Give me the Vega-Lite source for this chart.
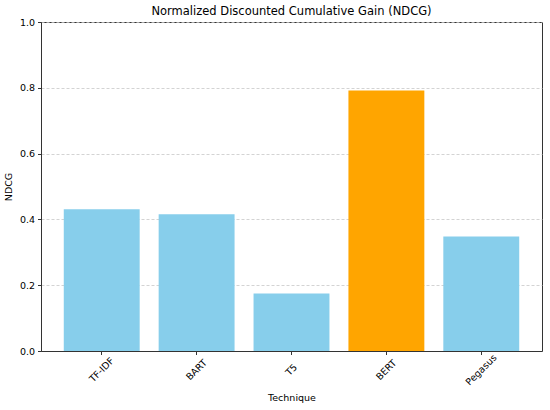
{
  "$schema": "https://vega.github.io/schema/vega-lite/v6.json",
  "width": 501,
  "height": 329,
  "autosize": {"type": "none"},
  "padding": {"left": 41, "top": 22, "right": 8, "bottom": 59},
  "background": "white",
  "config": {
    "font": "DejaVu Sans",
    "view": {"stroke": "#333333", "strokeWidth": 1}
  },
  "title": {
    "text": "Normalized Discounted Cumulative Gain (NDCG)",
    "font": "DejaVu Sans",
    "fontSize": 11.5,
    "fontWeight": "normal",
    "color": "#000000",
    "frame": "group",
    "offset": 0
  },
  "data": {
    "values": [
      {"Technique": "TF-IDF", "NDCG": 0.431},
      {"Technique": "BART", "NDCG": 0.416},
      {"Technique": "T5", "NDCG": 0.175},
      {"Technique": "BERT", "NDCG": 0.792},
      {"Technique": "Pegasus", "NDCG": 0.348}
    ]
  },
  "mark": {"type": "bar"},
  "encoding": {
    "x": {
      "field": "Technique",
      "type": "nominal",
      "sort": null,
      "scale": {"paddingInner": 0.2, "paddingOuter": 0.24},
      "axis": {
        "title": "Technique",
        "titleFont": "DejaVu Sans",
        "titleFontSize": 9.5,
        "titleFontWeight": "normal",
        "titleColor": "#000000",
        "titlePadding": 6,
        "labelAngle": -45,
        "labelAlign": "center",
        "labelBaseline": "middle",
        "labelPadding": 15,
        "labelFontSize": 9.5,
        "labelColor": "#000000",
        "domainColor": "#333333",
        "tickColor": "#333333",
        "tickSize": 3.5,
        "grid": false
      }
    },
    "y": {
      "field": "NDCG",
      "type": "quantitative",
      "scale": {"domain": [0, 1], "nice": false},
      "axis": {
        "title": "NDCG",
        "titleFont": "DejaVu Sans",
        "titleFontSize": 9.5,
        "titleFontWeight": "normal",
        "titleColor": "#000000",
        "titlePadding": 6,
        "values": [0, 0.2, 0.4, 0.6, 0.8, 1.0],
        "format": ".1f",
        "labelFontSize": 9.5,
        "labelColor": "#000000",
        "labelPadding": 3,
        "domainColor": "#333333",
        "tickColor": "#333333",
        "tickSize": 3.5,
        "grid": true,
        "gridColor": "#c8c8c8",
        "gridDash": [3, 2],
        "gridWidth": 0.8
      }
    },
    "color": {
      "field": "Technique",
      "type": "nominal",
      "scale": {
        "domain": ["TF-IDF", "BART", "T5", "BERT", "Pegasus"],
        "range": ["#87CEEB", "#87CEEB", "#87CEEB", "#FFA500", "#87CEEB"]
      },
      "legend": null
    }
  }
}
